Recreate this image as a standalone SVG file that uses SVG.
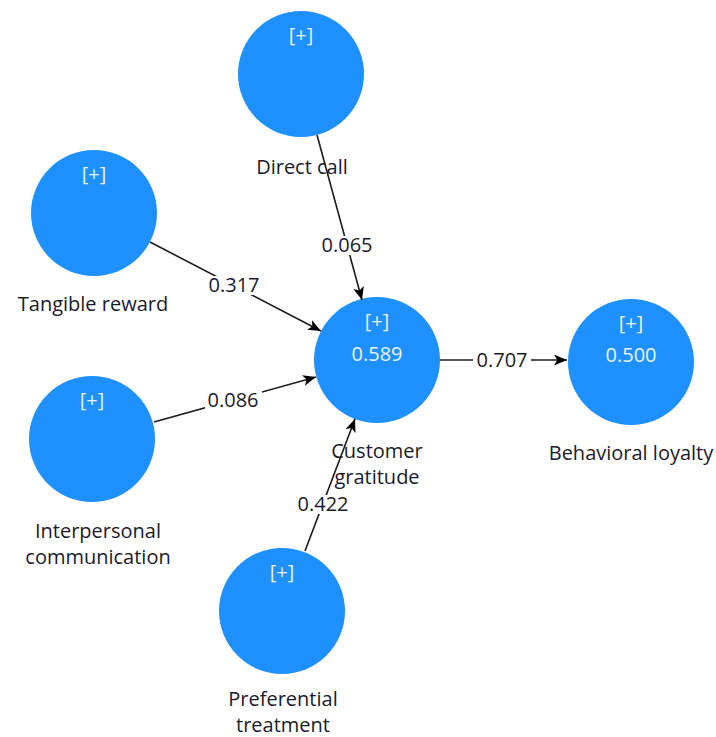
<svg xmlns="http://www.w3.org/2000/svg" width="716" height="737" viewBox="0 0 716 737">
<style>
.node{fill:#1e90ff;}
.in{font-family:"Open Sans","Noto Sans",sans-serif;font-size:20px;fill:#e8f3ff;text-anchor:middle;}
.lbl{font-family:"Open Sans","Noto Sans",sans-serif;font-size:20px;fill:#1c1a2a;text-anchor:middle;}
.edge{stroke:#1a1a1a;stroke-width:1.6;fill:none;marker-end:url(#arr);}
.bg{fill:#ffffff;}
</style>
<defs>
<marker id="arr" viewBox="0 0 12 10" refX="12" refY="5" markerWidth="13" markerHeight="11" markerUnits="userSpaceOnUse" orient="auto">
<path d="M0,0 L12,5 L0,10 L3,5 Z" fill="#000"/>
</marker>
</defs>
<rect width="716" height="737" fill="#ffffff"/>
<g id="direct-call">
<circle class="node" cx="301" cy="74" r="63"/>
<text class="in" x="301" y="42">[+]</text>
<text class="lbl" x="302" y="174">Direct call</text>
</g>
<g id="tangible-reward">
<circle class="node" cx="94" cy="213" r="63"/>
<text class="in" x="94" y="181">[+]</text>
<text class="lbl" x="93" y="311">Tangible reward</text>
</g>
<g id="interpersonal-communication">
<circle class="node" cx="92" cy="439" r="63"/>
<text class="in" x="92" y="407">[+]</text>
<text class="lbl" x="98" y="538">Interpersonal</text>
<text class="lbl" x="98" y="564">communication</text>
</g>
<g id="preferential-treatment">
<circle class="node" cx="282" cy="611" r="63"/>
<text class="in" x="282" y="579">[+]</text>
<text class="lbl" x="283" y="706">Preferential</text>
<text class="lbl" x="283" y="732">treatment</text>
</g>
<g id="customer-gratitude">
<circle class="node" cx="377" cy="360" r="63"/>
<text class="in" x="377" y="328">[+]</text>
<text class="in" x="377" y="361">0.589</text>
<text class="lbl" x="377" y="458">Customer</text>
<text class="lbl" x="377" y="484">gratitude</text>
</g>
<g id="behavioral-loyalty">
<circle class="node" cx="631" cy="362" r="63"/>
<text class="in" x="631" y="330">[+]</text>
<text class="in" x="631" y="362">0.500</text>
<text class="lbl" x="631" y="460">Behavioral loyalty</text>
</g>
<g id="connectors">
<line class="edge" x1="317" y1="135" x2="362" y2="300"/>
<rect class="bg" x="320" y="236" width="55" height="19"/>
<text class="lbl" x="347" y="252">0.065</text>
<line class="edge" x1="150" y1="242" x2="321" y2="331"/>
<rect class="bg" x="205" y="276" width="57" height="19"/>
<text class="lbl" x="234" y="292">0.317</text>
<line class="edge" x1="154" y1="422" x2="316" y2="377"/>
<rect class="bg" x="205" y="391" width="57" height="19"/>
<text class="lbl" x="233" y="407">0.086</text>
<line class="edge" x1="305" y1="551" x2="355" y2="419"/>
<rect class="bg" x="295" y="495" width="57" height="19"/>
<text class="lbl" x="323" y="511">0.422</text>
<line class="edge" x1="440" y1="360" x2="567" y2="360"/>
<rect class="bg" x="473" y="351" width="58" height="19"/>
<text class="lbl" x="502" y="367">0.707</text>
</g>
</svg>
